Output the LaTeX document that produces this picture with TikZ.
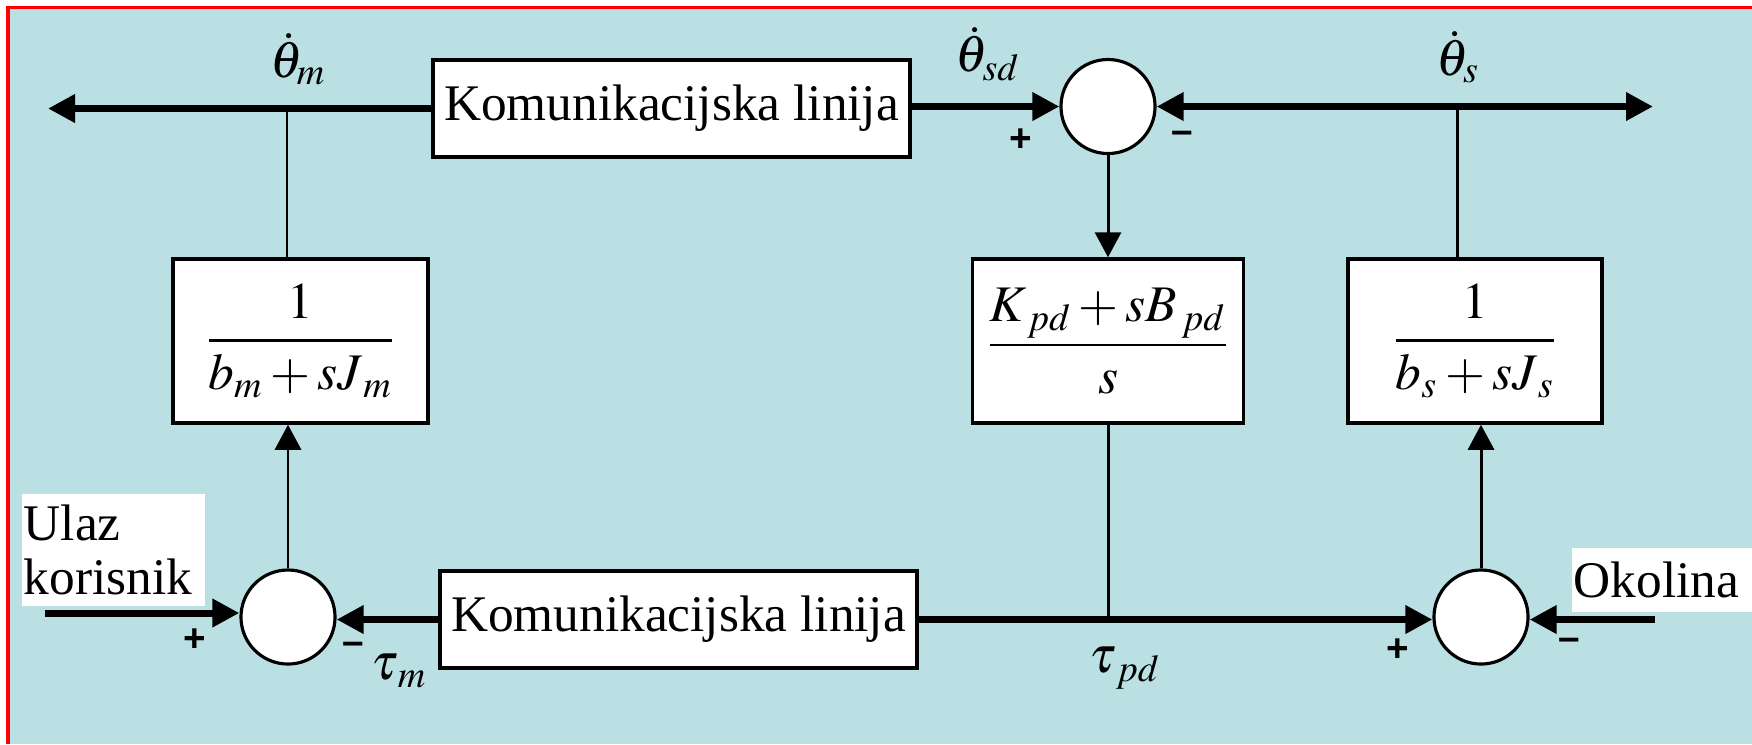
\documentclass[tikz,border=0pt]{standalone}
\usepackage{mathptmx}
\usepackage{fontspec}
\setmainfont{Liberation Serif}
\newfontfamily\signfont{Liberation Sans}
\usetikzlibrary{arrows.meta}
\definecolor{panelbg}{HTML}{BBE0E3}
\definecolor{framered}{HTML}{FF0000}

\begin{document}
\begin{tikzpicture}[x=0.01cm, y=-0.01cm,
      blk/.style={draw, fill=white, line width=0.95pt, inner sep=0pt, align=center,
                  minimum height=0.97cm, minimum width=4.77cm, font=\fontsize{14.6}{17}\selectfont},
      tf/.style={blk, minimum height=1.64cm},
      sumc/.style={draw, fill=white, circle, line width=0.9pt, inner sep=0pt, minimum size=0.94cm},
      lbl/.style={fill=white, inner sep=0.02cm, align=left, font=\fontsize{14.6}{15.4}\selectfont},
      tag/.style={inner sep=0pt, font=\fontsize{14.6}{17}\selectfont},
      sgn/.style={inner sep=0pt, font=\signfont\bfseries\fontsize{11}{12}\selectfont},
      thk/.style={line width=2pt, -{Triangle[length=0.27cm, width=0.27cm]}},
      thkB/.style={line width=2pt, {Triangle[length=0.27cm, width=0.27cm]}-{Triangle[length=0.27cm, width=0.27cm]}},
      thn/.style={line width=0.85pt},
      thnA/.style={thn, -{Triangle[length=0.25cm, width=0.26cm]}}]
    \useasboundingbox (0,0) rectangle (1752,744);
    \fill[white] (0,0) rectangle (1752,744);
    \fill[panelbg] (8,7) rectangle (1752,744);
    \draw[framered, line width=0.03cm] (8,744) -- (8,7) -- (1752,7);

    % blocks
    \node[blk] (commTop) at (671.5,108.5) {Komunikacijska linija};
    \node[blk] (commBot) at (678.5,619.5) {Komunikacijska linija};
    \node[tf, minimum width=2.55cm] (tfM) at (300.5,341) {$\displaystyle\frac{1\rule[-0.1cm]{0pt}{0pt}}{\rule{0pt}{0.42cm}b_{m}+sJ_{\,m}}$};
    \node[tf, minimum width=2.71cm] (tfPD) at (1108,341) {$\displaystyle\frac{K_{\,pd}+sB_{\,pd}}{s}$};
    \node[tf, minimum width=2.54cm] (tfS) at (1475,341) {$\displaystyle\frac{1\rule[-0.1cm]{0pt}{0pt}}{\rule{0pt}{0.42cm}b_{s}+sJ_{\,s}}$};
    \node[sumc] (sumTop) at (1108,106.5) {};
    \node[sumc] (sumM) at (288,617) {};
    \node[sumc] (sumS) at (1481,617) {};
    \node[lbl, anchor=north west, text width=1.79cm, minimum height=1.12cm] (ulaz) at (21,493) {Ulaz\\korisnik};
    \node[lbl, anchor=north west, text width=1.77cm, minimum height=0.64cm] (okol) at (1571,547) {Okolina};

    % signals
    \coordinate (thM) at (48,108.5);
    \coordinate (jM) at (287,108.5);
    \coordinate (thS) at (1653,106.5);
    \coordinate (jS) at (1457,106.5);
    \coordinate (uIn) at (45,613);
    \coordinate (okIn) at (1655,619.5);
    \draw[thk] (commTop.west) -- (thM);
    \draw[thn] (jM) -- (jM |- tfM.north);
    \draw[thk] (commTop.east |- sumTop.west) -- (sumTop.west);
    \draw[thkB] (sumTop.east) -- (thS);
    \draw[thn] (jS) -- (jS |- tfS.north);
    \draw[thnA] (sumTop.south) -- (sumTop.south |- tfPD.north);
    \draw[thnA] (sumM.north) -- (sumM.north |- tfM.south);
    \draw[thnA] (sumS.north) -- (sumS.north |- tfS.south);
    \draw[thk] (uIn) -- (uIn -| sumM.west);
    \draw[thk] (commBot.west) -- (commBot.west -| sumM.east);
    \draw[thk] (commBot.east) -- (commBot.east -| sumS.west);
    \draw[thn] (tfPD.south) -- (tfPD.south |- commBot.east);
    \draw[thk] (okIn) -- (okIn -| sumS.east);

    % labels
    \node[tag] (lThM) at (298,59) {$\dot{\theta}_{m}$};
    \node[tag] (lThSD) at (988,54) {$\dot{\theta}_{sd}$};
    \node[tag] (lThS) at (1458,57) {$\dot{\theta}_{s}$};
    \node[tag] (lTauM) at (399,671) {$\tau_{\,m}$};
    \node[tag] (lTauPD) at (1125,668) {$\tau_{\,pd}$};
    \node[sgn] (pTop) at (1021,140) {+};
    \node[sgn] (mTop) at (1182,137) {–};
    \node[sgn] (pM) at (195,640) {+};
    \node[sgn] (mM) at (353,648) {–};
    \node[sgn] (pS) at (1398,650) {+};
    \node[sgn] (mS) at (1569,644) {–};
  \end{tikzpicture}
\end{document}
